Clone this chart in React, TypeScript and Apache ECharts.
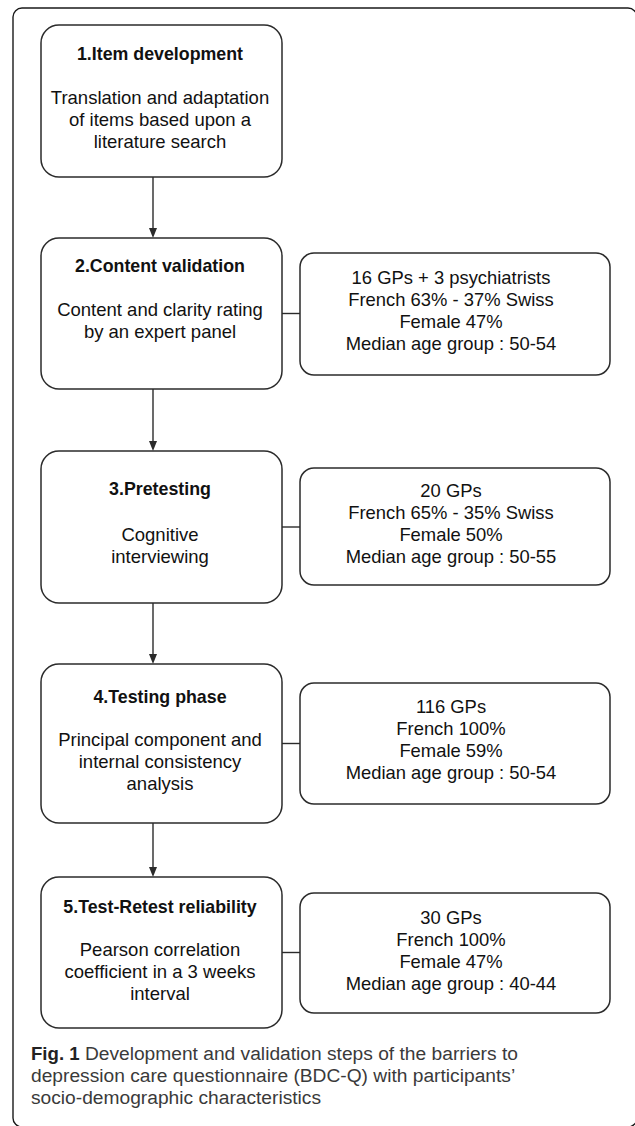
import React, { useEffect, useRef } from "react";
import * as echarts from "echarts";

const stepTitles = [
  "1.Item development",
  "2.Content validation",
  "3.Pretesting",
  "4.Testing phase",
  "5.Test-Retest reliability",
];
const stepDescriptions = [
  ["Translation and adaptation", "of items based upon a", "literature search"],
  ["Content and clarity rating", "by an expert panel"],
  ["Cognitive", "interviewing"],
  ["Principal component and", "internal consistency", "analysis"],
  ["Pearson correlation", "coefficient in a 3 weeks", "interval"],
];
const participantLines = [
  null,
  ["16 GPs + 3 psychiatrists", "French 63% - 37% Swiss", "Female 47%", "Median age group : 50-54"],
  ["20 GPs", "French 65% - 35% Swiss", "Female 50%", "Median age group : 50-55"],
  ["116 GPs", "French 100%", "Female 59%", "Median age group : 50-54"],
  ["30 GPs", "French 100%", "Female 47%", "Median age group : 40-44"],
];
const captionBold = "Fig. 1";
const captionLines = [
  " Development and validation steps of the barriers to",
  "depression care questionnaire (BDC-Q) with participants’",
  "socio-demographic characteristics",
];

// layout
const leftBoxes = [
  [25, 177],
  [238, 389],
  [451, 603],
  [664, 823],
  [877, 1028],
];
const titleY = [54, 266, 489, 697, 907];
const bodyY = [97, 309, 534, 739, 949];
const rightBoxes: (number[] | null)[] = [null, [253, 375], [468, 585], [683, 804], [893, 1013]];
const rightFirstY = [0, 277, 490, 706, 917];
const captionY = [1053.5, 1075.5, 1097.5];

export default function App() {
  const ref = useRef<HTMLDivElement>(null);
  useEffect(() => {
    const chart = echarts.init(ref.current!, null, { renderer: "svg" });
    const els: any[] = [];
    const stroke = "#2b2b2b";
    const boxFont = "Liberation Sans, Arial, sans-serif";
    const LX = 41, LW = 241, RX = 300, RW = 310, LH = 22.3;
    const arrowX = 153;

    // outer frame
    els.push({
      type: "rect",
      shape: { x: 13, y: 8, width: 624, height: 1119, r: 9 },
      style: { fill: "#fff", stroke: "#1a1a1a", lineWidth: 1.4 },
    });

    leftBoxes.forEach(([t, b], i) => {
      els.push({
        type: "rect",
        shape: { x: LX, y: t, width: LW, height: b - t, r: 18 },
        style: { fill: "#fff", stroke, lineWidth: 1.5 },
      });
      els.push({
        type: "text",
        style: {
          text: stepTitles[i],
          x: 160,
          y: titleY[i],
          align: "center",
          verticalAlign: "middle",
          fontFamily: boxFont,
          fontWeight: "bold",
          fontSize: 17.8,
          fill: "#111",
        },
      });
      const lines = stepDescriptions[i];
      els.push({
        type: "text",
        style: {
          text: lines.join("\n"),
          x: 160,
          y: bodyY[i] - LH / 2,
          align: "center",
          verticalAlign: "top",
          lineHeight: LH,
          fontFamily: boxFont,
          fontSize: 18.5,
          fill: "#111",
        },
      });
      if (i < leftBoxes.length - 1) {
        const nt = leftBoxes[i + 1][0];
        els.push({
          type: "line",
          shape: { x1: arrowX, y1: b, x2: arrowX, y2: nt - 8 },
          style: { stroke, lineWidth: 1.4 },
        });
        els.push({
          type: "polygon",
          shape: { points: [[arrowX - 4, nt - 10], [arrowX + 4, nt - 10], [arrowX, nt]] },
          style: { fill: stroke },
        });
      }
      const rb = rightBoxes[i];
      const pl = participantLines[i];
      if (rb && pl) {
        els.push({
          type: "rect",
          shape: { x: RX, y: rb[0], width: RW, height: rb[1] - rb[0], r: 14 },
          style: { fill: "#fff", stroke, lineWidth: 1.5 },
        });
        els.push({
          type: "text",
          style: {
            text: pl.join("\n"),
            x: 451,
            y: rightFirstY[i] - LH / 2,
            align: "center",
            verticalAlign: "top",
            lineHeight: LH,
            fontFamily: boxFont,
            fontSize: 18.4,
            fill: "#111",
          },
        });
        const cy = (t + b) / 2;
        els.push({
          type: "line",
          shape: { x1: LX + LW, y1: cy, x2: RX, y2: cy },
          style: { stroke, lineWidth: 1.4 },
        });
      }
    });

    // caption
    const capFont = "Liberation Sans, Arial, sans-serif";
    captionLines.forEach((line, i) => {
      els.push({
        type: "text",
        style: {
          text: i === 0 ? "{b|" + captionBold + "}{n|" + line + "}" : "{n|" + line + "}",
          x: 31,
          y: captionY[i],
          align: "left",
          verticalAlign: "middle",
          rich: {
            b: { fontFamily: capFont, fontWeight: "bold", fontSize: 18.6, fill: "#222" },
            n: { fontFamily: capFont, fontSize: 19.2, fill: "#3a3a3a" },
          },
        },
      });
    });

    chart.setOption({ animation: false, graphic: { elements: els } });
    return () => chart.dispose();
  }, []);
  return (
    <div
      ref={ref}
      style={{ position: "fixed", left: 0, top: 0, width: 635, height: 1126, background: "#fff" }}
    />
  );
}
